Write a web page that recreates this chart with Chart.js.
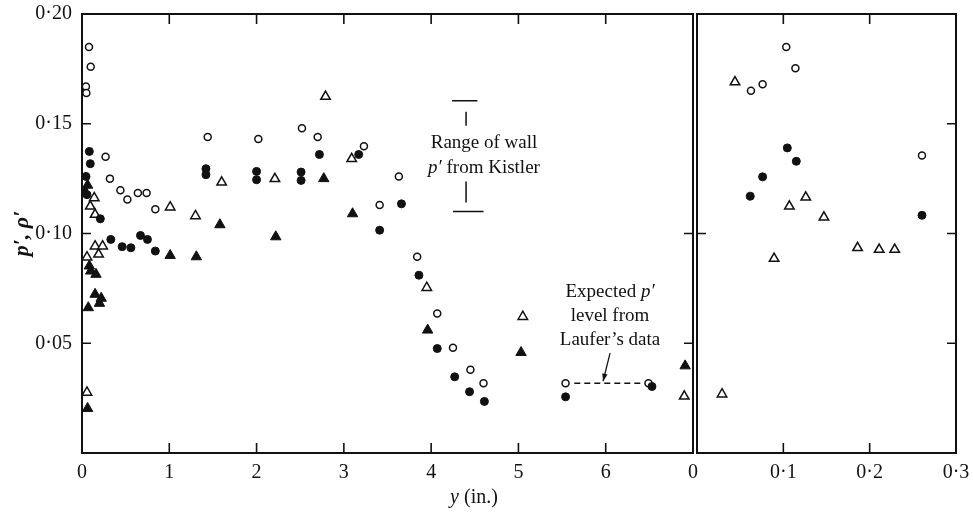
<!DOCTYPE html>
<html>
<head>
<meta charset="utf-8">
<script src="https://cdn.jsdelivr.net/npm/chart.js@4.4.0/dist/chart.umd.min.js"></script>
<style>
  body { margin: 0; background: #fff; width: 973px; height: 520px; position: relative; overflow: hidden;
         font-family: "Liberation Serif", "DejaVu Serif", serif; color: #111; }
  #wrapL { position: absolute; left: 0; top: 0; width: 700px; height: 520px; }
  #wrapR { position: absolute; left: 690px; top: 0; width: 283px; height: 520px; }
  .note { position: absolute; font-size: 19px; line-height: 25px; text-align: center; white-space: nowrap;
          transform: translateX(-50%); }
</style>
</head>
<body>
<div id="wrapL"><canvas id="left"></canvas></div>
<div id="wrapR"><canvas id="right"></canvas></div>
<div class="note" style="left:484px; top:129px;">Range of wall<br><i>p′</i> from Kistler</div>
<div class="note" style="left:610px; top:279px; line-height:24px;">Expected <i>p′</i><br>level from<br>Laufer’s data</div>
<div class="note" style="left:474px; top:484px; font-size:20px;"><i>y</i> (in.)</div>
<script>
// --- left panel: y from 0 to 7 in. (points as [y, value]) ---
const openCircleL = [
  [0.08, 0.185], [0.10, 0.176], [0.045, 0.167], [0.05, 0.164], [0.27, 0.135], [0.32, 0.125],
  [0.44, 0.1197], [0.52, 0.1155], [0.64, 0.1185], [0.74, 0.1185], [0.84, 0.111], [1.44, 0.144],
  [2.02, 0.143], [2.52, 0.148], [2.70, 0.144], [3.23, 0.1397], [3.41, 0.113], [3.63, 0.126],
  [3.84, 0.0894], [4.07, 0.0636], [4.25, 0.048], [4.45, 0.0379], [4.60, 0.0318], [5.54, 0.0318],
  [6.49, 0.0318]
];
const filledCircleL = [
  [0.084, 0.1374], [0.095, 0.1318], [0.046, 0.126], [0.026, 0.1192], [0.057, 0.1177], [0.21, 0.1067],
  [0.33, 0.0973], [0.46, 0.094], [0.56, 0.0935], [0.67, 0.0991], [0.75, 0.0973], [0.84, 0.092],
  [1.42, 0.1295], [1.42, 0.1268], [2.00, 0.1283], [2.00, 0.1245], [2.51, 0.128], [2.51, 0.1242],
  [2.72, 0.136], [3.17, 0.136], [3.41, 0.1015], [3.66, 0.1135], [3.86, 0.081], [4.07, 0.0476],
  [4.27, 0.0347], [4.44, 0.0279], [4.61, 0.0235], [5.54, 0.0256], [6.53, 0.0303]
];
const openTriangleL = [
  [0.14, 0.1162], [0.095, 0.1124], [0.15, 0.1086], [0.15, 0.0942], [0.236, 0.0942], [0.19, 0.0905],
  [0.057, 0.0892], [0.057, 0.0276], [1.01, 0.112], [1.30, 0.108], [1.60, 0.1233], [2.21, 0.1249],
  [2.79, 0.1624], [3.09, 0.134], [3.95, 0.0753], [5.05, 0.0621], [6.90, 0.0258]
];
const filledTriangleL = [
  [0.064, 0.122], [0.084, 0.0852], [0.10, 0.0829], [0.16, 0.0814], [0.15, 0.0723], [0.22, 0.0705],
  [0.20, 0.0682], [0.072, 0.0662], [0.064, 0.0203], [1.01, 0.090], [1.31, 0.0894], [1.58, 0.104],
  [2.22, 0.0985], [2.77, 0.125], [3.10, 0.109], [3.96, 0.056], [5.03, 0.0458], [6.91, 0.0397]
];

// --- right panel: y from 0 to 0.3 in. ---
const openCircleR = [[0.1034, 0.185], [0.114, 0.1753], [0.0625, 0.165], [0.076, 0.168], [0.2606, 0.1355]];
const filledCircleR = [[0.1046, 0.139], [0.115, 0.1329], [0.076, 0.1258], [0.0617, 0.117], [0.2606, 0.1083]];
const openTriangleR = [
  [0.044, 0.169], [0.126, 0.1165], [0.107, 0.1124], [0.147, 0.1074], [0.186, 0.0935],
  [0.211, 0.0927], [0.229, 0.0927], [0.0893, 0.0886], [0.029, 0.0268]
];

// annotations (data units)
const kistlerRange = [0.110, 0.1605];   // wall p' range
const lauferLevel = 0.0318;             // expected p' level
const lauferSpan = [5.64, 6.44];

const FONT = '"Liberation Serif", "DejaVu Serif", serif';
const INK = '#111';

function toPts(arr) { return arr.map(p => ({ x: p[0], y: p[1] })); }

function markerSet(label, pts, kind) {
  const open = kind.startsWith('open');
  const tri = kind.endsWith('Tri');
  return {
    label, data: toPts(pts),
    pointStyle: tri ? 'triangle' : 'circle',
    pointRadius: tri ? (open ? 5.5 : 6) : (open ? 3.5 : 4),
    backgroundColor: open ? '#fff' : INK,
    borderColor: INK,
    borderWidth: open ? 1.5 : 1,
    showLine: false
  };
}

// scales should not push the plot area around, the layout padding does it
function noPad(s) { s.paddingTop = 0; s.paddingBottom = 0; s.paddingLeft = 0; s.paddingRight = 0; }

// frame + inward ticks + range/laufer markings
const framePlugin = {
  id: 'frame',
  afterDatasetsDraw(chart, args, opts) {
    const { ctx, chartArea: a, scales } = chart;
    const xs = scales.x, ys = scales.y;
    ctx.save();
    ctx.strokeStyle = INK;
    ctx.lineWidth = 1.6;
    ctx.beginPath();
    (opts.xTicks || []).forEach(v => {
      const px = xs.getPixelForValue(v);
      ctx.moveTo(px, a.bottom); ctx.lineTo(px, a.bottom - 10);
      ctx.moveTo(px, a.top); ctx.lineTo(px, a.top + 10);
    });
    (opts.leftTicks || []).forEach(v => {
      const py = ys.getPixelForValue(v);
      ctx.moveTo(a.left, py); ctx.lineTo(a.left + 9, py);
    });
    (opts.rightTicks || []).forEach(v => {
      const py = ys.getPixelForValue(v);
      ctx.moveTo(a.right, py); ctx.lineTo(a.right - 9, py);
    });
    ctx.stroke();
    ctx.lineWidth = 2;
    ctx.strokeRect(a.left, a.top, a.right - a.left, a.bottom - a.top);

    if (opts.notes) {
      // Kistler range bars
      const cx = xs.getPixelForValue(4.40);
      const yTop = ys.getPixelForValue(kistlerRange[1]);
      const yBot = ys.getPixelForValue(kistlerRange[0]);
      ctx.lineWidth = 1.5;
      ctx.beginPath();
      ctx.moveTo(xs.getPixelForValue(4.24), yTop); ctx.lineTo(xs.getPixelForValue(4.53), yTop);
      ctx.moveTo(cx, yTop + 11); ctx.lineTo(cx, yTop + 25);
      ctx.moveTo(cx, yBot - 30); ctx.lineTo(cx, yBot - 9);
      ctx.moveTo(xs.getPixelForValue(4.25), yBot); ctx.lineTo(xs.getPixelForValue(4.60), yBot);
      ctx.stroke();
      // Laufer dashed level
      const ly = ys.getPixelForValue(lauferLevel);
      ctx.setLineDash([6, 4]);
      ctx.beginPath();
      ctx.moveTo(xs.getPixelForValue(lauferSpan[0]), ly);
      ctx.lineTo(xs.getPixelForValue(lauferSpan[1]), ly);
      ctx.stroke();
      ctx.setLineDash([]);
      // arrow
      const ax0 = xs.getPixelForValue(6.05), ay0 = ys.getPixelForValue(0.0455);
      const ax1 = xs.getPixelForValue(5.97), ay1 = ly - 2;
      ctx.lineWidth = 1.3;
      ctx.beginPath();
      ctx.moveTo(ax0, ay0); ctx.lineTo(ax1, ay1);
      ctx.stroke();
      const ang = Math.atan2(ay1 - ay0, ax1 - ax0);
      ctx.beginPath();
      ctx.moveTo(ax1, ay1);
      ctx.lineTo(ax1 - 8 * Math.cos(ang - 0.35), ay1 - 8 * Math.sin(ang - 0.35));
      ctx.lineTo(ax1 - 8 * Math.cos(ang + 0.35), ay1 - 8 * Math.sin(ang + 0.35));
      ctx.closePath();
      ctx.fillStyle = INK;
      ctx.fill();
    }
    ctx.restore();
  }
};

const tickFont = { family: FONT, size: 20 };

new Chart(document.getElementById('left'), {
  type: 'scatter',
  data: {
    datasets: [
      markerSet('p′ filled circles', filledCircleL, 'filledCirc'),
      markerSet('p′ filled triangles', filledTriangleL, 'filledTri'),
      markerSet('ρ′ open circles', openCircleL, 'openCirc'),
      markerSet('ρ′ open triangles', openTriangleL, 'openTri')
    ]
  },
  options: {
    responsive: true, maintainAspectRatio: false, animation: false,
    layout: { padding: { top: 14, right: 7, left: 0, bottom: 0 } },
    plugins: {
      legend: { display: false }, tooltip: { enabled: false },
      frame: { xTicks: [1, 2, 3, 4, 5, 6], leftTicks: [0.05, 0.10, 0.15], rightTicks: [0.05, 0.10], notes: true }
    },
    scales: {
      x: {
        type: 'linear', min: 0, max: 7,
        grid: { display: false, drawTicks: false }, border: { display: false },
        ticks: { stepSize: 1, autoSkip: false, maxRotation: 0, padding: 8, color: INK, font: tickFont,
                 callback: v => (v === 7 ? '0' : String(v)) },
        afterFit: s => { s.height = 67; noPad(s); }
      },
      y: {
        min: 0, max: 0.2,
        grid: { display: false, drawTicks: false }, border: { display: false },
        ticks: { stepSize: 0.05, padding: 10, color: INK, font: tickFont,
                 callback: v => (v === 0 ? '' : v.toFixed(2).replace('.', '·')) },
        title: { display: true, text: 'p′, ρ′', color: INK,
                 font: { family: FONT, size: 22, style: 'italic', weight: 'bold' }, padding: { top: 9, bottom: 0 } },
        afterFit: s => { s.width = 82; noPad(s); }
      }
    }
  },
  plugins: [framePlugin]
});

new Chart(document.getElementById('right'), {
  type: 'scatter',
  data: {
    datasets: [
      markerSet('p′ filled circles', filledCircleR, 'filledCirc'),
      markerSet('ρ′ open circles', openCircleR, 'openCirc'),
      markerSet('ρ′ open triangles', openTriangleR, 'openTri')
    ]
  },
  options: {
    responsive: true, maintainAspectRatio: false, animation: false,
    layout: { padding: { top: 14, right: 17, left: 4, bottom: 0 } },
    plugins: {
      legend: { display: false }, tooltip: { enabled: false },
      frame: { xTicks: [0.1, 0.2], leftTicks: [0.10], rightTicks: [0.05, 0.10, 0.15] }
    },
    scales: {
      x: {
        type: 'linear', min: 0, max: 0.3,
        grid: { display: false, drawTicks: false }, border: { display: false },
        ticks: { stepSize: 0.1, autoSkip: false, maxRotation: 0, padding: 8, color: INK, font: tickFont,
                 callback: v => (v === 0 ? '' : v.toFixed(1).replace('.', '·')) },
        afterFit: s => { s.height = 67; noPad(s); }
      },
      y: { display: false, min: 0, max: 0.2 }
    }
  },
  plugins: [framePlugin]
});
</script>
</body>
</html>
